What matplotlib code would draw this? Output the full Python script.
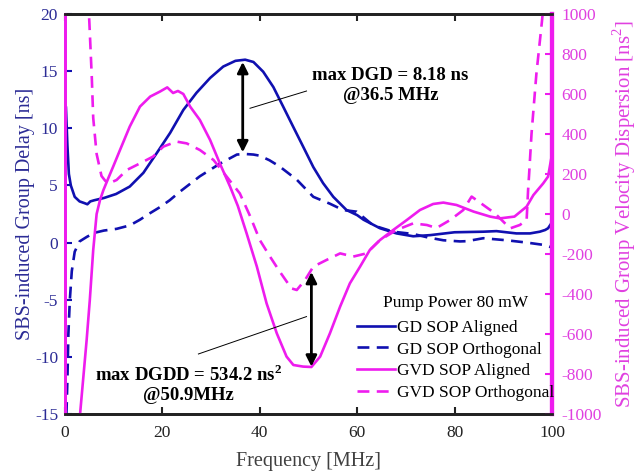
import matplotlib
matplotlib.use("Agg")
import matplotlib.pyplot as plt

plt.rcParams['font.family'] = ['Liberation Serif', 'DejaVu Serif']
plt.rcParams['axes.unicode_minus'] = False
plt.rcParams['mathtext.fontset'] = 'custom'
plt.rcParams['mathtext.rm'] = 'Liberation Serif'
plt.rcParams['mathtext.bf'] = 'Liberation Serif:bold'

# ---------------- data ----------------
freq_gd_al = [0.2, 0.5, 0.8, 1.2, 2.0, 3.0, 4.0, 4.6, 5.2, 6.0, 8.0, 10.5, 13.3, 16.1, 18.8,
              21.6, 24.3, 27.0, 29.8, 32.5, 35.0, 37.0, 38.7, 40.7, 42.8, 44.8, 46.9, 48.9,
              51.0, 53.0, 55.1, 57.8, 60.0, 61.3, 64.7, 68.1, 71.5, 75.0, 80.0, 85.9, 88.6,
              92.7, 95.5, 97.5, 98.6, 99.2, 99.9]
gd_al = [11.8, 8.5, 6.0, 5.0, 4.0, 3.6, 3.45, 3.35, 3.6, 3.7, 3.9, 4.25, 4.9, 6.1, 7.8,
         9.6, 11.6, 13.1, 14.4, 15.4, 15.9, 16.0, 15.8, 14.95, 13.6, 11.9, 10.1, 8.4,
         6.6, 5.2, 4.0, 2.85, 2.4, 2.0, 1.25, 0.8, 0.55, 0.65, 0.9, 0.95, 1.0,
         0.8, 0.8, 0.95, 1.1, 1.25, 1.7]

freq_gd_or = [0.3, 0.5, 0.7, 1.0, 1.4, 2.0, 3.0, 4.5, 6.0, 8.0, 10.6, 13.3, 15.4, 17.0,
              19.5, 21.5, 23.6, 27.7, 31.8, 35.3, 37.0, 38.7, 40.0, 42.0, 44.1, 47.6, 51.0,
              54.4, 57.1, 59.9, 63.3, 67.4, 71.5, 74.5, 77.7, 81.1, 82.5, 85.9, 88.0, 90.7,
              94.8, 98.2, 99.8]
gd_or = [-15.0, -12.0, -8.0, -5.0, -2.5, -0.8, 0.1, 0.5, 0.85, 1.05, 1.2, 1.5, 2.0, 2.45,
         3.1, 3.7, 4.45, 5.8, 6.9, 7.7, 7.75, 7.7, 7.6, 7.2, 6.65, 5.5, 4.0,
         3.4, 2.85, 2.7, 1.5, 0.95, 0.75, 0.45, 0.2, 0.1, 0.12, 0.38, 0.3, 0.2,
         0.0, -0.2, -0.4]

freq_gvd_al = [3.1, 4.45, 5.1, 5.8, 6.5, 7.2, 7.9, 9.0, 9.9, 11.3, 13.3, 15.4, 17.5, 19.5,
               21.0, 22.2, 23.2, 24.3, 25.7, 27.7, 29.8, 31.8, 33.9, 35.5, 37.3, 39.4, 41.4,
               43.5, 45.5, 46.9, 48.9, 50.6, 52.4, 54.4, 56.5, 58.5, 60.6, 62.6, 64.7, 67.4,
               70.2, 72.9, 75.6, 77.7, 80.4, 83.9, 87.3, 89.3, 92.3, 94.8, 96.2, 98.2, 99.2,
               99.8]
gvd_al = [-1000, -630, -430, -180, 0, 70, 120, 185, 237, 320, 437, 537, 587, 612,
          633, 605, 615, 600, 537, 470, 370, 253, 137, 40, -97, -263, -447,
          -597, -713, -755, -763, -765, -713, -597, -463, -347, -263, -180, -130, -80,
          -30, 20, 50, 57, 45, 12, -13, -22, -13, 37, 95, 153, 187,
          270]

freq_gvd_or = [4.7, 5.0, 5.5, 5.8, 6.5, 7.5, 8.3, 9.2, 10.6, 12.7, 15.4, 18.1, 20.2, 22.9,
               25.0, 27.7, 30.5, 33.2, 35.9, 38.0, 40.0, 42.1, 44.1, 46.5, 47.6, 49.3, 51.0,
               53.7, 56.5, 59.2, 61.9, 64.7, 68.1, 71.5, 74.3, 76.3, 79.1, 81.8, 83.5, 85.9,
               88.3, 91.4, 93.4, 94.8, 95.1, 95.3, 95.8, 96.8, 97.9, 98.5]
gvd_or = [1100, 962, 687, 480, 300, 190, 165, 155, 170, 220, 253, 287, 337, 362,
          353, 320, 270, 187, 103, -10, -130, -213, -288, -372, -380, -330, -263,
          -230, -197, -213, -197, -130, -80, -47, -55, -70, -30, 20, 87, 45,
          3, -72, -55, -30, 120, 195, 400, 700, 953, 1100]

x_ticks = [0, 20, 40, 60, 80, 100]
gd_ticks = [-15, -10, -5, 0, 5, 10, 15, 20]
gvd_ticks = [-1000, -800, -600, -400, -200, 0, 200, 400, 600, 800, 1000]

legend_title = 'Pump Power 80 mW'
labels = ['GD SOP Aligned', 'GD SOP Orthogonal', 'GVD SOP Aligned', 'GVD SOP Orthogonal']

# ---------------- style ----------------
BLUE = '#1010b0'
MAG = '#ee1cee'
BLUE_TXT = '#2b2b95'
MAG_TXT = '#e040e0'
DASH = (4.5, 2.8)
LW = 1.9

fig = plt.figure(figsize=(6.37, 4.74), dpi=100)
ax = fig.add_axes([0.102, 0.1266, 0.7645, 0.8439])
ax2 = ax.twinx()

l1, = ax.plot(freq_gd_al, gd_al, color=BLUE, lw=LW)
l2, = ax.plot(freq_gd_or, gd_or, color=BLUE, lw=LW, linestyle=(0, DASH))
l3, = ax2.plot(freq_gvd_al, gvd_al, color=MAG, lw=LW)
l4, = ax2.plot(freq_gvd_or, gvd_or, color=MAG, lw=LW, linestyle=(0, DASH))

ax.set_xlim(0, 100)
ax.set_ylim(-15, 20)
ax2.set_ylim(-1000, 1000)
ax.set_xticks(x_ticks)
ax.set_yticks(gd_ticks)
ax2.set_yticks(gvd_ticks)

ax.tick_params(axis='x', direction='in', length=5, width=1.5, top=True, colors='#222222',
               labelsize=12.5, pad=8)
ax.tick_params(axis='y', direction='in', length=5, width=1.5, colors=BLUE, labelcolor=BLUE_TXT,
               labelsize=12.5, pad=5)
ax2.tick_params(axis='y', direction='in', length=5, width=1.5, colors=MAG, labelcolor=MAG_TXT,
                labelsize=12.5, pad=7)

for a in (ax, ax2):
    a.spines['top'].set_color('#222222')
    a.spines['bottom'].set_color('#222222')
    a.spines['top'].set_linewidth(2)
    a.spines['bottom'].set_linewidth(2)
    a.spines['left'].set_color(MAG)
    a.spines['left'].set_linewidth(2)
    a.spines['right'].set_color(MAG)
    a.spines['right'].set_linewidth(3)

ax.set_xlabel('Frequency [MHz]', fontsize=14.5, color='#404040', labelpad=8)
ax.set_ylabel('SBS-induced Group Delay [ns]', fontsize=14.5, color=BLUE_TXT, labelpad=0)
ax2.set_ylabel('SBS-induced Group Velocity Dispersion [ns$^2$]', fontsize=15.0,
               color=MAG_TXT, labelpad=6)

# annotations
arrow_kw = dict(arrowstyle='<|-|>', color='black', lw=2, mutation_scale=16,
                shrinkA=0, shrinkB=0)
ax.annotate('', xy=(36.5, 15.8), xytext=(36.5, 7.9), arrowprops=arrow_kw)
ax.plot([38.0, 49.6], [11.75, 13.26], color='black', lw=0.7)
ax.text(66.8, 13.75, 'max DGD = 8.18 ns\n@36.5 MHz', fontsize=13.5, fontweight='bold',
        ha='center', va='center', multialignment='center', linespacing=1.2)

ax2.annotate('', xy=(50.6, -290), xytext=(50.6, -763), arrowprops=arrow_kw)
ax2.plot([27.4, 49.6], [-700, -513], color='black', lw=0.7)
ax2.text(25.3, -850, 'max DGDD = 534.2 ns$^\\mathbf{2}$\n@50.9MHz', fontsize=13.5,
         fontweight='bold', ha='center', va='center', multialignment='center',
         linespacing=1.2)

leg = ax2.legend([l1, l2, l3, l4], labels, title=legend_title, frameon=False,
                 fontsize=12.5, title_fontsize=12.5, loc='upper left',
                 bbox_to_anchor=(357 / 637, 1 - 295 / 474), bbox_transform=fig.transFigure,
                 borderpad=0, borderaxespad=0, handlelength=2.2, handletextpad=0.1,
                 labelspacing=0.32)
leg._legend_box.sep = 0.5 * 12.5

fig.savefig('out.png', dpi=100)
